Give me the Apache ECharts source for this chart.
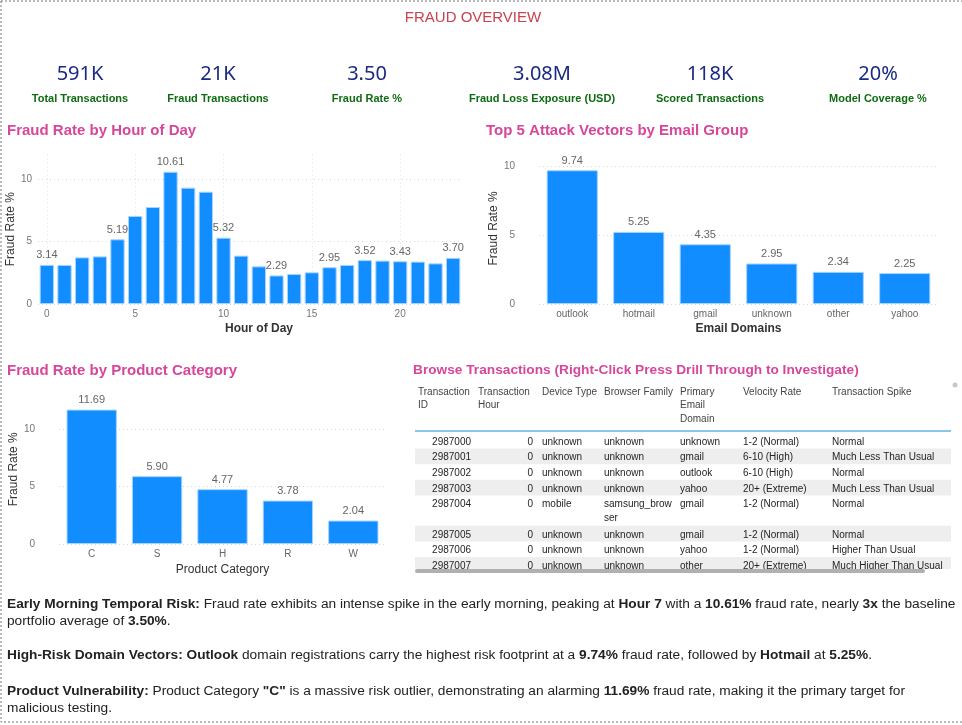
<!DOCTYPE html>
<html>
<head>
<meta charset="utf-8">
<script src="https://cdn.jsdelivr.net/npm/echarts@6/dist/echarts.min.js"></script>
<style>
  html, body { margin: 0; padding: 0; background: #fff; }
  #main { width: 962px; height: 725px; }
</style>
</head>
<body>
<div id="main"></div>
<script>
var hours = [0, 1, 2, 3, 4, 5, 6, 7, 8, 9, 10, 11, 12, 13, 14, 15, 16, 17, 18, 19, 20, 21, 22, 23];
var hourRate = [3.14, 3.13, 3.74, 3.82, 5.19, 7.06, 7.78, 10.61, 9.33, 9.01, 5.32, 3.88, 3.02, 2.29, 2.41, 2.54, 2.95, 3.13, 3.52, 3.48, 3.43, 3.40, 3.26, 3.70];
var hourLabelled = [0, 4, 7, 10, 13, 16, 18, 20, 23];   // hours that show a data label
var hourTicks = [0, 5, 10, 15, 20];
var rateTicks = [0, 5, 10];

var emailDomains = ['outlook', 'hotmail', 'gmail', 'unknown', 'other', 'yahoo'];
var emailRate = [9.74, 5.25, 4.35, 2.95, 2.34, 2.25];

var productCats = ['C', 'S', 'H', 'R', 'W'];
var productRate = [11.69, 5.90, 4.77, 3.78, 2.04];

var kpiValues = ['591K', '21K', '3.50', '3.08M', '118K', '20%'];
var kpiLabels = ['Total Transactions', 'Fraud Transactions', 'Fraud Rate %', 'Fraud Loss Exposure (USD)', 'Scored Transactions', 'Model Coverage %'];

var tableHeaders = ['Transaction ID', 'Transaction Hour', 'Device Type', 'Browser Family', 'Primary Email Domain', 'Velocity Rate', 'Transaction Spike'];
var tableRows = [
    ['2987000', '0', 'unknown', 'unknown', 'unknown', '1-2 (Normal)', 'Normal'],
    ['2987001', '0', 'unknown', 'unknown', 'gmail', '6-10 (High)', 'Much Less Than Usual'],
    ['2987002', '0', 'unknown', 'unknown', 'outlook', '6-10 (High)', 'Normal'],
    ['2987003', '0', 'unknown', 'unknown', 'yahoo', '20+ (Extreme)', 'Much Less Than Usual'],
    ['2987004', '0', 'mobile', 'samsung_browser', 'gmail', '1-2 (Normal)', 'Normal'],
    ['2987005', '0', 'unknown', 'unknown', 'gmail', '1-2 (Normal)', 'Normal'],
    ['2987006', '0', 'unknown', 'unknown', 'yahoo', '1-2 (Normal)', 'Higher Than Usual'],
    ['2987007', '0', 'unknown', 'unknown', 'other', '20+ (Extreme)', 'Much Higher Than Usual']
];

// ---- styles ----
var BAR = '#118DFF';
var PINK = '#D6479A';
var SANS = '"Liberation Sans", Arial, sans-serif';

var myChart = echarts.init(document.getElementById('main'));

var barItem = { color: BAR, borderColor: '#a8d5ff', borderWidth: 1 };
var valLabel = { show: true, position: 'top', distance: 4, color: '#666', fontSize: 11, fontFamily: SANS,
    formatter: function (p) { return Number(p.value).toFixed(2); } };

function yAxisCfg(gridIndex, max, margin, gap) {
    return {
        gridIndex: gridIndex, type: 'value', min: 0, max: max,
        name: 'Fraud Rate %', nameLocation: 'middle', nameGap: gap,
        nameTextStyle: { color: '#333', fontSize: 12, fontFamily: SANS },
        axisLine: { show: false },
        axisTick: { show: false, customValues: rateTicks },
        axisLabel: { color: '#777', fontSize: 10, fontFamily: SANS, margin: margin, customValues: rateTicks },
        splitLine: { lineStyle: { color: '#d6d6d6', type: [1, 3] } }
    };
}

// ---- graphic: page frame, headings, KPIs, table, notes ----
var graphics = [];
graphics.push({ type: 'rect', shape: { x: 1, y: 1, width: 990, height: 721 }, silent: true,
    style: { fill: 'none', stroke: '#777', lineWidth: 1, lineDash: [2, 2] } });

function txt(x, y, text, font, fill, align) {
    graphics.push({ type: 'text', x: x, y: y, silent: true,
        style: { text: text, font: font, fill: fill, textAlign: align || 'left', textVerticalAlign: 'middle' } });
}

txt(473, 18, 'FRAUD OVERVIEW', '15px ' + SANS, '#C8424F', 'center');

var kpiX = [80, 218, 367, 542, 710, 878];
kpiValues.forEach(function (v, i) {
    txt(kpiX[i], 74, v, '20px "Noto Sans", sans-serif', '#1B2A80', 'center');
    txt(kpiX[i], 99, kpiLabels[i], 'bold 11px ' + SANS, '#0F6B12', 'center');
});

txt(7, 131, 'Fraud Rate by Hour of Day', 'bold 15px ' + SANS, PINK);
txt(486, 131, 'Top 5 Attack Vectors by Email Group', 'bold 15px ' + SANS, PINK);
txt(7, 371, 'Fraud Rate by Product Category', 'bold 15px ' + SANS, PINK);
txt(413, 370, 'Browse Transactions (Right-Click Press Drill Through to Investigate)', 'bold 13.7px ' + SANS, PINK);

// table
var colX = [418, 478, 542, 604, 680, 743, 832];
var colW = [56, 60, 58, 72, 59, 85, 115];
var ctx = document.createElement('canvas').getContext('2d');
ctx.font = '10px ' + SANS;
tableHeaders.forEach(function (h, i) {
    graphics.push({ type: 'text', x: colX[i], y: 385, silent: true,
        style: { text: h, width: colW[i], overflow: 'break', lineHeight: 13.5,
            font: '10px ' + SANS, fill: '#444', textAlign: 'left', textVerticalAlign: 'top' } });
});
graphics.push({ type: 'rect', shape: { x: 415, y: 430, width: 536, height: 2 }, silent: true, style: { fill: '#8cc4ea' } });

var rowTop = 433;
tableRows.forEach(function (r, ri) {
    var lines = 1;
    r.forEach(function (c, ci) {
        if (ci > 1 && ctx.measureText(c).width > colW[ci]) lines = 2;
    });
    var h = lines === 2 ? 30.4 : 15.6;
    if (ri % 2 === 1) {
        graphics.push({ type: 'rect', shape: { x: 415, y: rowTop, width: 536, height: h }, silent: true, style: { fill: '#eeeeee' } });
    }
    r.forEach(function (c, ci) {
        var right = ci < 2;
        var x = ci === 0 ? 471 : (ci === 1 ? 533 : colX[ci]);
        graphics.push({ type: 'text', x: x, y: rowTop + 2, silent: true,
            style: { text: c, width: right ? null : colW[ci], overflow: right ? null : 'breakAll', lineHeight: 14,
                font: '10px ' + SANS, fill: '#252423', textAlign: right ? 'right' : 'left', textVerticalAlign: 'top' } });
    });
    rowTop += h;
});
graphics.push({ type: 'rect', shape: { x: 413, y: 569, width: 545, height: 10 }, silent: true, style: { fill: '#fff' } });
graphics.push({ type: 'rect', shape: { x: 415, y: 569, width: 510, height: 4, r: 2 }, silent: true, style: { fill: '#b0b0b0' } });
graphics.push({ type: 'circle', shape: { cx: 955, cy: 385, r: 2.5 }, silent: true, style: { fill: '#c8c8c8' } });

// notes
var noteRich = { b: { fontWeight: 'bold', fontSize: 13.7, fontFamily: SANS, fill: '#222' } };
function note(y, text) {
    graphics.push({ type: 'text', x: 7, y: y, silent: true,
        style: { text: text, rich: noteRich, font: '13.7px ' + SANS, fill: '#222', textVerticalAlign: 'middle' } });
}
note(604, '{b|Early Morning Temporal Risk:} Fraud rate exhibits an intense spike in the early morning, peaking at {b|Hour 7} with a {b|10.61%} fraud rate, nearly {b|3x} the baseline');
note(621, 'portfolio average of {b|3.50%}.');
note(655, '{b|High-Risk Domain Vectors: Outlook} domain registrations carry the highest risk footprint at a {b|9.74%} fraud rate, followed by {b|Hotmail} at {b|5.25%}.');
note(691, '{b|Product Vulnerability:} Product Category {b|"C"} is a massive risk outlier, demonstrating an alarming {b|11.69%} fraud rate, making it the primary target for');
note(708, 'malicious testing.');

var option = {
    animation: false,
    grid: [
        { left: 38, right: 500, top: 154.4, bottom: 421 },
        { left: 539, right: 24, top: 152.9, bottom: 421 },
        { left: 59, right: 576, top: 394.5, bottom: 181 }
    ],
    xAxis: [
        {
            gridIndex: 0, type: 'value', min: -0.5, max: 23.5,
            name: 'Hour of Day', nameLocation: 'middle', nameGap: 19,
            nameTextStyle: { color: '#333', fontSize: 12, fontWeight: 'bold', fontFamily: SANS, padding: [0, 0, 0, 18] },
            axisLine: { show: false },
            axisTick: { show: false, customValues: hourTicks },
            axisLabel: { color: '#777', fontSize: 10, fontFamily: SANS, margin: 5, customValues: hourTicks },
            splitLine: { show: true, lineStyle: { color: '#e0e0e0', type: [1, 3] } }
        },
        {
            gridIndex: 1, type: 'category', data: emailDomains,
            name: 'Email Domains', nameLocation: 'middle', nameGap: 19,
            nameTextStyle: { color: '#333', fontSize: 12, fontWeight: 'bold', fontFamily: SANS },
            axisLine: { show: false }, axisTick: { show: false },
            axisLabel: { color: '#666', fontSize: 10, fontFamily: SANS, margin: 5 }
        },
        {
            gridIndex: 2, type: 'category', data: productCats,
            name: 'Product Category', nameLocation: 'middle', nameGap: 20,
            nameTextStyle: { color: '#333', fontSize: 12, fontFamily: SANS },
            axisLine: { show: false }, axisTick: { show: false },
            axisLabel: { color: '#666', fontSize: 10, fontFamily: SANS, margin: 5 }
        }
    ],
    yAxis: [yAxisCfg(0, 12, 6, 15), yAxisCfg(1, 11, 24, 39), yAxisCfg(2, 13, 24, 39)],
    series: [
        {
            type: 'bar', xAxisIndex: 0, yAxisIndex: 0, barWidth: '81%',
            data: hours.map(function (h, i) { return [h, hourRate[i]]; }),
            itemStyle: barItem,
            label: Object.assign({}, valLabel, {
                formatter: function (p) {
                    return hourLabelled.indexOf(p.value[0]) >= 0 ? p.value[1].toFixed(2) : '';
                }
            })
        },
        {
            type: 'bar', xAxisIndex: 1, yAxisIndex: 1, barCategoryGap: '23%',
            data: emailRate, itemStyle: barItem, label: valLabel
        },
        {
            type: 'bar', xAxisIndex: 2, yAxisIndex: 2, barCategoryGap: '23%',
            data: productRate, itemStyle: barItem, label: valLabel
        }
    ],
    graphic: graphics
};

myChart.setOption(option);
</script>
</body>
</html>
